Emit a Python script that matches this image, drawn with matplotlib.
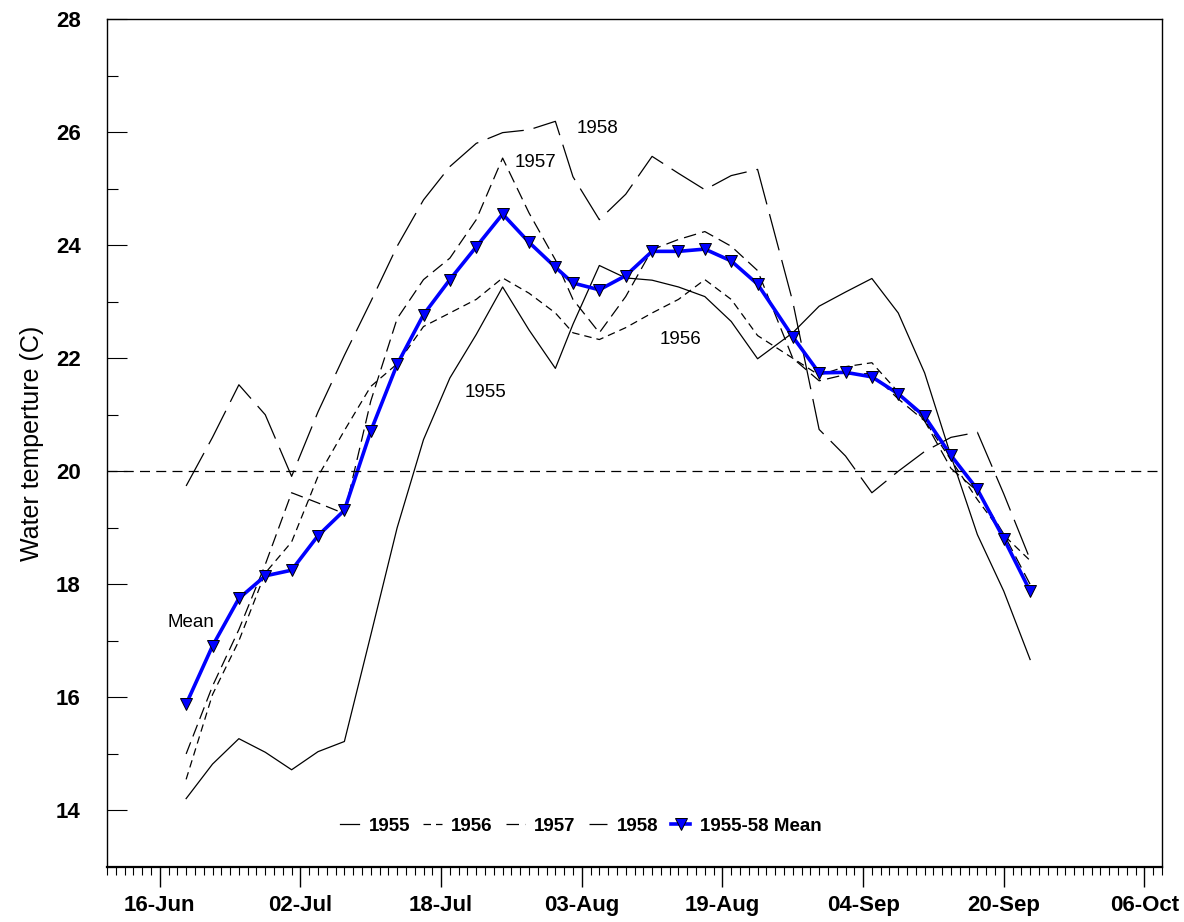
import matplotlib
matplotlib.use('Agg')
import matplotlib.pyplot as plt
import matplotlib.dates as mdates
import pandas as pd

plt.rcParams['font.family'] = ['Liberation Sans', 'DejaVu Sans']

# sampling days (month-day), same for every year
sample_days = ['06-19', '06-22', '06-25', '06-28', '07-01', '07-04', '07-07', '07-10',
               '07-13', '07-16', '07-19', '07-22', '07-25', '07-28', '07-31', '08-02',
               '08-05', '08-08', '08-11', '08-14', '08-17', '08-20', '08-23', '08-27',
               '08-30', '09-02', '09-05', '09-08', '09-11', '09-14', '09-17', '09-20',
               '09-23']

t1955 = [14.21, 14.82, 15.27, 15.03, 14.72, 15.04, 15.22, 17.1, 19.0, 20.56, 21.65,
         22.42, 23.26, 22.5, 21.82, 22.6, 23.64, 23.42, 23.38, 23.26, 23.09, 22.65,
         21.99, 22.45, 22.92, 23.17, 23.41, 22.80, 21.74, 20.27, 18.88, 17.88, 16.67]
t1956 = [14.55, 16.05, 17.0, 18.2, 18.75, 19.91, 20.72, 21.5, 21.9, 22.56, 22.80,
         23.04, 23.42, 23.15, 22.80, 22.45, 22.33, 22.54, 22.80, 23.04, 23.39, 23.04,
         22.4, 22.0, 21.7, 21.85, 21.92, 21.4, 20.9, 20.2, 19.5, 18.87, 18.42]
t1957 = [15.0, 16.2, 17.2, 18.35, 19.62, 19.44, 19.25, 21.24, 22.7, 23.39, 23.77,
         24.45, 25.54, 24.57, 23.74, 23.04, 22.45, 23.09, 23.92, 24.1, 24.24, 23.98,
         23.55, 22.0, 21.6, 21.71, 21.73, 21.28, 20.89, 20.05, 19.65, 18.89, 18.0]
t1958 = [19.74, 20.6, 21.53, 21.0, 19.91, 21.05, 22.05, 23.0, 23.98, 24.8, 25.39,
         25.80, 25.99, 26.04, 26.19, 25.21, 24.45, 24.9, 25.57, 25.27, 24.98, 25.23,
         25.34, 23.0, 20.74, 20.27, 19.62, 20.0, 20.35, 20.6, 20.69, 19.6, 18.44]
mean_temp = [15.88, 16.91, 17.75, 18.15, 18.25, 18.86, 19.31, 20.71, 21.89, 22.77,
             23.39, 23.97, 24.55, 24.05, 23.61, 23.33, 23.21, 23.46, 23.89, 23.89,
             23.93, 23.72, 23.31, 22.38, 21.74, 21.75, 21.67, 21.37, 20.97, 20.28,
             19.68, 18.81, 17.88]

major_days = ['06-16', '07-02', '07-18', '08-03', '08-19', '09-04', '09-20', '10-06']

# in-plot line labels: (month-day hour, temperature, text)
line_labels = [('08-04 19:00', 26.07, '1958'), ('07-28 17:00', 25.46, '1957'),
               ('08-14 05:00', 22.33, '1956'), ('07-23 00:00', 21.39, '1955'),
               ('06-19 14:00', 17.33, 'Mean')]

yr = '1957-'
dates = mdates.date2num(pd.to_datetime([yr + d for d in sample_days]))

fig = plt.figure(figsize=(11.84, 9.22), dpi=100)
ax = fig.add_axes([107 / 1184, 1 - 867 / 922, 1055 / 1184, 848 / 922])

lw = 0.9
ax.plot(dates, t1955, color='black', lw=lw, label='1955')
ax.plot(dates, t1956, color='black', lw=lw, dashes=(6, 4), label='1956')
ax.plot(dates, t1957, color='black', lw=lw, dashes=(10, 5), label='1957')
ax.plot(dates, t1958, color='black', lw=lw, dashes=(30, 8), label='1958')
ax.plot(dates, mean_temp, color='#0000ff', lw=2.6, marker='v', markersize=8,
        markerfacecolor='#0000ff', markeredgecolor='black', markeredgewidth=0.7,
        label='1955-58 Mean')

ax.axhline(20, color='black', lw=0.9, dashes=(8, 5))

for d, v, s in line_labels:
    ax.text(mdates.date2num(pd.Timestamp(yr + d)), v, s, ha='center', va='center',
            fontsize=13.5)

ax.set_xlim(mdates.date2num(pd.Timestamp(yr + '06-10')),
            mdates.date2num(pd.Timestamp(yr + '10-08')))
ax.set_ylim(13, 28)

ax.xaxis.set_major_locator(plt.FixedLocator(
    mdates.date2num(pd.to_datetime([yr + d for d in major_days]))))
ax.xaxis.set_minor_locator(mdates.DayLocator())
ax.xaxis.set_major_formatter(mdates.DateFormatter('%d-%b'))
ax.set_yticks(range(14, 29, 2))
ax.set_yticks(range(13, 29), minor=True)

ax.tick_params(axis='x', which='major', direction='out', length=14.5, width=1,
               labelsize=16, pad=6)
ax.tick_params(axis='x', which='minor', direction='out', length=6, width=0.8)
ax.tick_params(axis='y', which='major', direction='in', length=14.5, width=0.8,
               labelsize=16, pad=19)
ax.tick_params(axis='y', which='minor', direction='in', length=8, width=0.8)
for lab in ax.get_xticklabels() + ax.get_yticklabels():
    lab.set_fontweight('bold')

for side in ['top', 'right', 'left']:
    ax.spines[side].set_linewidth(1)
ax.spines['bottom'].set_linewidth(1.6)

ax.set_ylabel('Water temperture (C)', fontsize=18)
ax.yaxis.set_label_coords(-0.06, 0.5)

ax.legend(loc='center', bbox_to_anchor=(0.449, 0.048), ncol=5, frameon=False,
          handlelength=1.0, handletextpad=0.5, columnspacing=0.7, numpoints=1,
          prop={'weight': 'bold', 'size': 13.5})

fig.savefig('out.png', dpi=100)
